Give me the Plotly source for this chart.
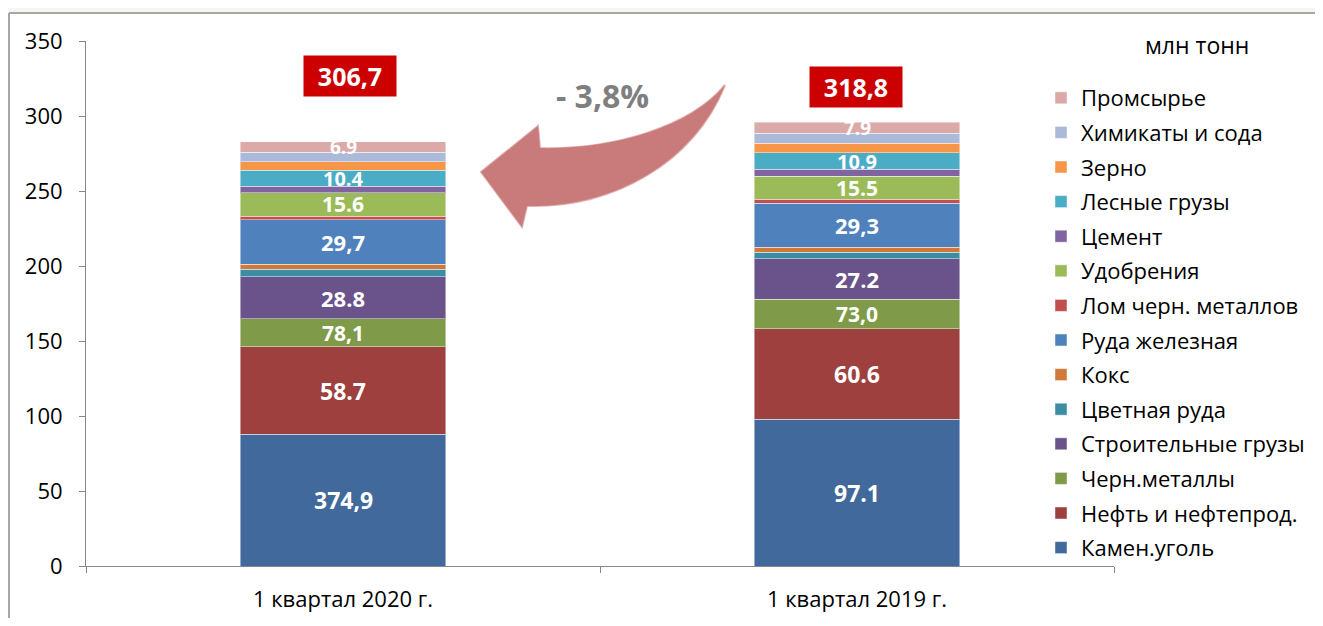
import plotly.graph_objects as go
import numpy as np

categories = ["1 квартал 2020 г.", "1 квартал 2019 г."]
series_names = ["Камен.уголь", "Нефть и нефтепрод.", "Черн.металлы", "Строительные грузы",
                "Цветная руда", "Кокс", "Руда железная", "Лом черн. металлов", "Удобрения",
                "Цемент", "Лесные грузы", "Зерно", "Химикаты и сода", "Промсырье"]
# segment heights (2020, 2019)
coal = [87.8, 97.8]
oil = [58.4, 60.4]
ferrous = [18.5, 19.8]
building = [28.2, 26.9]
nonferrous_ore = [4.9, 4.4]
coke = [3.3, 3.2]
iron_ore = [29.6, 29.3]
scrap = [2.6, 2.6]
fertilizers = [15.6, 15.6]
cement = [4.4, 4.5]
timber = [10.7, 11.0]
grain = [5.5, 6.3]
chemicals = [6.3, 6.6]
raw_materials = [7.1, 7.6]
series_values = [coal, oil, ferrous, building, nonferrous_ore, coke, iron_ore, scrap,
                 fertilizers, cement, timber, grain, chemicals, raw_materials]
# printed labels on segments (None = no label)
labels_2020 = ["374,9", "58.7", "78,1", "28.8", None, None, "29,7", None, "15.6", None, "10.4", None, None, "6.9"]
labels_2019 = ["97.1", "60.6", "73,0", "27.2", None, None, "29,3", None, "15.5", None, "10.9", None, None, "7.9"]
total_labels = ["306,7", "318,8"]
total_label_y = [326.7, 319.3]
change_label = "- 3,8%"
unit_label = "млн тонн"

colors = ["#41699B", "#9E413E", "#7F9A48", "#69538A", "#3C8DA3", "#D0793A", "#4F81BD",
          "#C0504D", "#9BBB59", "#8064A2", "#4BACC6", "#F79646", "#AABAD8", "#DBA9A8"]
label_sizes = [23, 23, 21, 22, 19, 19, 22, 19, 21, 19, 20, 19, 19, 19]

FONT = "Open Sans"
OFF = 8  # page body margin
W, H = 1323 - 2 * OFF, 626 - 2 * OFF
# plot area in page pixels: x 86..1114, y 41..566
ML, MT = 86 - OFF, 41 - OFF
MR = W - (1114 - OFF)
MB = H - (566 - OFF)
PW, PH = W - ML - MR, H - MT - MB

def px(x, y):
    # page pixel -> paper coords
    return (x - OFF - ML) / PW, (H - MB - (y - OFF)) / PH

fig = go.Figure()
n = len(series_names)
for i, (name, vals) in enumerate(zip(series_names, series_values)):
    fig.add_trace(go.Bar(
        x=categories, y=vals, name=name, width=0.4,
        marker=dict(color=colors[i], line=dict(color="rgba(255,255,255,0.45)", width=1)),
        legendgroup=name, legendrank=100 + n - i, hoverinfo="skip"))

annotations = []
cum = np.cumsum(np.array(series_values), axis=0)
for ci, labels in enumerate([labels_2020, labels_2019]):
    for si, lab in enumerate(labels):
        if lab is None:
            continue
        center = cum[si][ci] - series_values[si][ci] / 2
        annotations.append(dict(x=categories[ci], y=center, text="<b>%s</b>" % lab,
                                showarrow=False, font=dict(family=FONT, size=label_sizes[si], color="white")))

# totals in red boxes
for ci, (lab, yv, xs) in enumerate(zip(total_labels, total_label_y, [7, -1])):
    annotations.append(dict(x=categories[ci], y=yv, xshift=xs, text="<b>%s</b>" % lab, showarrow=False,
                            bgcolor="#CC0000", borderpad=0, width=92, height=40,
                            font=dict(family=FONT, size=25, color="white")))

cx, cy = px(602, 95)
annotations.append(dict(x=cx, y=cy, xref="paper", yref="paper", xanchor="center", yanchor="middle",
                        text="<b>%s</b>" % change_label,
                        showarrow=False, font=dict(family=FONT, size=32, color="#7F7F7F")))
ux, uy = px(1197, 45)
annotations.append(dict(x=ux, y=uy, xref="paper", yref="paper", xanchor="center", yanchor="middle",
                        text=unit_label, showarrow=False,
                        font=dict(family=FONT, size=23, color="black")))

def path_px(cmds):
    out = []
    for c in cmds:
        if isinstance(c, str):
            out.append(c)
        else:
            xx, yy = px(*c)
            out.append("%.5f,%.5f" % (xx, yy))
    return " ".join(out)

arrow = path_px(["M", (725, 85), "C", (690, 128), (610, 150), (540, 148), "L", (538, 126),
                 "L", (481, 172), "L", (522, 227), "L", (527, 206), "C", (612, 208), (693, 164), (725, 85), "Z"])

fx0, fy0 = px(0, 0)
fx1, fy1 = px(1340, 13)
lx0, ly0 = px(9, 13)
lx1, _ = px(1340, 13)
_, ly1 = px(9, 640)
shapes = [
    dict(type="rect", xref="paper", yref="paper", x0=fx0, y0=fy0, x1=fx1, y1=fy1,
         fillcolor="#F7F5F0", line=dict(width=0), layer="below"),
    dict(type="line", xref="paper", yref="paper", x0=lx0, y0=ly0, x1=lx1, y1=ly0,
         line=dict(color="#A6A6A6", width=2), layer="below"),
    dict(type="line", xref="paper", yref="paper", x0=lx0, y0=ly0, x1=lx0, y1=ly1,
         line=dict(color="#A6A6A6", width=2), layer="below"),
    dict(type="path", xref="paper", yref="paper", path=arrow, fillcolor="#C97B7B",
         line=dict(color="rgba(201,123,123,0.6)", width=2)),
]

lgx, lgy = px(1041, 77)
fig.update_layout(
    width=W, height=H, barmode="stack", bargap=0.6,
    margin=dict(l=ML, r=MR, t=MT, b=MB, autoexpand=False),
    paper_bgcolor="white", plot_bgcolor="rgba(0,0,0,0)",
    font=dict(family=FONT, size=20, color="black"),
    showlegend=True,
    legend=dict(x=lgx, y=lgy, xanchor="left", yanchor="top",
                traceorder="grouped", tracegroupgap=3, font=dict(family=FONT, size=22, color="black"),
                bgcolor="rgba(0,0,0,0)"),
    xaxis=dict(showline=True, linecolor="#868686", linewidth=1, ticks="outside", tickson="boundaries",
               tickcolor="#868686", ticklen=6, tickfont=dict(size=22), showgrid=False,
               ticklabelstandoff=14, automargin=False),
    yaxis=dict(range=[0, 350], dtick=50, showline=True, linecolor="#868686", linewidth=1,
               ticks="outside", tickcolor="#868686", ticklen=6, showgrid=False, zeroline=False,
               tickfont=dict(size=22), ticklabelstandoff=12, automargin=False),
    annotations=annotations, shapes=shapes,
)
fig.write_html("out.html")
